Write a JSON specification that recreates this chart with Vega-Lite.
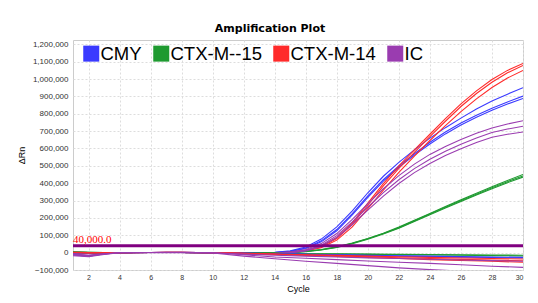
{
"$schema": "https://vega.github.io/schema/vega-lite/v6.json",
"width": 450, "height": 230,
"autosize": "none",
"padding": {"left": 73, "top": 40, "right": 15, "bottom": 33},
"background": "white",
"title": {"text": "Amplification Plot", "font": "DejaVu Sans", "fontSize": 11, "fontWeight": "bold", "color": "#000000", "anchor": "middle", "dx": -28, "offset": 6},
"datasets": {"curves": [
{"s":"CMY","w":"B1","c":1,"v":2000},{"s":"CMY","w":"B1","c":2,"v":0},{"s":"CMY","w":"B1","c":3,"v":-1000},{"s":"CMY","w":"B1","c":4,"v":0},{"s":"CMY","w":"B1","c":5,"v":1000},{"s":"CMY","w":"B1","c":6,"v":1000},{"s":"CMY","w":"B1","c":7,"v":2000},{"s":"CMY","w":"B1","c":8,"v":2000},{"s":"CMY","w":"B1","c":9,"v":1000},{"s":"CMY","w":"B1","c":10,"v":0},{"s":"CMY","w":"B1","c":11,"v":-1000},{"s":"CMY","w":"B1","c":12,"v":-2000},{"s":"CMY","w":"B1","c":13,"v":-1000},{"s":"CMY","w":"B1","c":14,"v":2000},{"s":"CMY","w":"B1","c":15,"v":10000},{"s":"CMY","w":"B1","c":16,"v":32000},{"s":"CMY","w":"B1","c":17,"v":78000},{"s":"CMY","w":"B1","c":18,"v":148000},{"s":"CMY","w":"B1","c":19,"v":240000},{"s":"CMY","w":"B1","c":20,"v":345000},{"s":"CMY","w":"B1","c":21,"v":440000},{"s":"CMY","w":"B1","c":22,"v":520000},{"s":"CMY","w":"B1","c":23,"v":592000},{"s":"CMY","w":"B1","c":24,"v":660000},{"s":"CMY","w":"B1","c":25,"v":720000},{"s":"CMY","w":"B1","c":26,"v":775000},{"s":"CMY","w":"B1","c":27,"v":828000},{"s":"CMY","w":"B1","c":28,"v":873000},{"s":"CMY","w":"B1","c":29,"v":913000},{"s":"CMY","w":"B1","c":30,"v":950000},
{"s":"CMY","w":"B2","c":1,"v":0},{"s":"CMY","w":"B2","c":2,"v":-2000},{"s":"CMY","w":"B2","c":3,"v":-1000},{"s":"CMY","w":"B2","c":4,"v":0},{"s":"CMY","w":"B2","c":5,"v":1000},{"s":"CMY","w":"B2","c":6,"v":1000},{"s":"CMY","w":"B2","c":7,"v":2000},{"s":"CMY","w":"B2","c":8,"v":2000},{"s":"CMY","w":"B2","c":9,"v":1000},{"s":"CMY","w":"B2","c":10,"v":0},{"s":"CMY","w":"B2","c":11,"v":-1000},{"s":"CMY","w":"B2","c":12,"v":-2000},{"s":"CMY","w":"B2","c":13,"v":-2000},{"s":"CMY","w":"B2","c":14,"v":1000},{"s":"CMY","w":"B2","c":15,"v":8000},{"s":"CMY","w":"B2","c":16,"v":27000},{"s":"CMY","w":"B2","c":17,"v":68000},{"s":"CMY","w":"B2","c":18,"v":133000},{"s":"CMY","w":"B2","c":19,"v":225000},{"s":"CMY","w":"B2","c":20,"v":327000},{"s":"CMY","w":"B2","c":21,"v":420000},{"s":"CMY","w":"B2","c":22,"v":500000},{"s":"CMY","w":"B2","c":23,"v":570000},{"s":"CMY","w":"B2","c":24,"v":636000},{"s":"CMY","w":"B2","c":25,"v":695000},{"s":"CMY","w":"B2","c":26,"v":747000},{"s":"CMY","w":"B2","c":27,"v":792000},{"s":"CMY","w":"B2","c":28,"v":832000},{"s":"CMY","w":"B2","c":29,"v":868000},{"s":"CMY","w":"B2","c":30,"v":902000},
{"s":"CMY","w":"B3","c":1,"v":-2000},{"s":"CMY","w":"B3","c":2,"v":-3000},{"s":"CMY","w":"B3","c":3,"v":-2000},{"s":"CMY","w":"B3","c":4,"v":0},{"s":"CMY","w":"B3","c":5,"v":1000},{"s":"CMY","w":"B3","c":6,"v":1000},{"s":"CMY","w":"B3","c":7,"v":1000},{"s":"CMY","w":"B3","c":8,"v":1000},{"s":"CMY","w":"B3","c":9,"v":1000},{"s":"CMY","w":"B3","c":10,"v":0},{"s":"CMY","w":"B3","c":11,"v":-1000},{"s":"CMY","w":"B3","c":12,"v":-3000},{"s":"CMY","w":"B3","c":13,"v":-3000},{"s":"CMY","w":"B3","c":14,"v":0},{"s":"CMY","w":"B3","c":15,"v":6000},{"s":"CMY","w":"B3","c":16,"v":24000},{"s":"CMY","w":"B3","c":17,"v":62000},{"s":"CMY","w":"B3","c":18,"v":126000},{"s":"CMY","w":"B3","c":19,"v":217000},{"s":"CMY","w":"B3","c":20,"v":318000},{"s":"CMY","w":"B3","c":21,"v":412000},{"s":"CMY","w":"B3","c":22,"v":492000},{"s":"CMY","w":"B3","c":23,"v":562000},{"s":"CMY","w":"B3","c":24,"v":626000},{"s":"CMY","w":"B3","c":25,"v":684000},{"s":"CMY","w":"B3","c":26,"v":735000},{"s":"CMY","w":"B3","c":27,"v":780000},{"s":"CMY","w":"B3","c":28,"v":820000},{"s":"CMY","w":"B3","c":29,"v":856000},{"s":"CMY","w":"B3","c":30,"v":888000},
{"s":"CTX-M-14","w":"R1","c":1,"v":3000},{"s":"CTX-M-14","w":"R1","c":2,"v":1000},{"s":"CTX-M-14","w":"R1","c":3,"v":0},{"s":"CTX-M-14","w":"R1","c":4,"v":0},{"s":"CTX-M-14","w":"R1","c":5,"v":1000},{"s":"CTX-M-14","w":"R1","c":6,"v":1000},{"s":"CTX-M-14","w":"R1","c":7,"v":2000},{"s":"CTX-M-14","w":"R1","c":8,"v":2000},{"s":"CTX-M-14","w":"R1","c":9,"v":1000},{"s":"CTX-M-14","w":"R1","c":10,"v":0},{"s":"CTX-M-14","w":"R1","c":11,"v":-2000},{"s":"CTX-M-14","w":"R1","c":12,"v":-4000},{"s":"CTX-M-14","w":"R1","c":13,"v":-4000},{"s":"CTX-M-14","w":"R1","c":14,"v":-2000},{"s":"CTX-M-14","w":"R1","c":15,"v":3000},{"s":"CTX-M-14","w":"R1","c":16,"v":14000},{"s":"CTX-M-14","w":"R1","c":17,"v":38000},{"s":"CTX-M-14","w":"R1","c":18,"v":88000},{"s":"CTX-M-14","w":"R1","c":19,"v":172000},{"s":"CTX-M-14","w":"R1","c":20,"v":285000},{"s":"CTX-M-14","w":"R1","c":21,"v":398000},{"s":"CTX-M-14","w":"R1","c":22,"v":500000},{"s":"CTX-M-14","w":"R1","c":23,"v":592000},{"s":"CTX-M-14","w":"R1","c":24,"v":682000},{"s":"CTX-M-14","w":"R1","c":25,"v":772000},{"s":"CTX-M-14","w":"R1","c":26,"v":857000},{"s":"CTX-M-14","w":"R1","c":27,"v":932000},{"s":"CTX-M-14","w":"R1","c":28,"v":997000},{"s":"CTX-M-14","w":"R1","c":29,"v":1050000},{"s":"CTX-M-14","w":"R1","c":30,"v":1090000},
{"s":"CTX-M-14","w":"R2","c":1,"v":2000},{"s":"CTX-M-14","w":"R2","c":2,"v":0},{"s":"CTX-M-14","w":"R2","c":3,"v":0},{"s":"CTX-M-14","w":"R2","c":4,"v":0},{"s":"CTX-M-14","w":"R2","c":5,"v":1000},{"s":"CTX-M-14","w":"R2","c":6,"v":1000},{"s":"CTX-M-14","w":"R2","c":7,"v":2000},{"s":"CTX-M-14","w":"R2","c":8,"v":2000},{"s":"CTX-M-14","w":"R2","c":9,"v":1000},{"s":"CTX-M-14","w":"R2","c":10,"v":0},{"s":"CTX-M-14","w":"R2","c":11,"v":-2000},{"s":"CTX-M-14","w":"R2","c":12,"v":-4000},{"s":"CTX-M-14","w":"R2","c":13,"v":-5000},{"s":"CTX-M-14","w":"R2","c":14,"v":-3000},{"s":"CTX-M-14","w":"R2","c":15,"v":2000},{"s":"CTX-M-14","w":"R2","c":16,"v":12000},{"s":"CTX-M-14","w":"R2","c":17,"v":34000},{"s":"CTX-M-14","w":"R2","c":18,"v":81000},{"s":"CTX-M-14","w":"R2","c":19,"v":163000},{"s":"CTX-M-14","w":"R2","c":20,"v":273000},{"s":"CTX-M-14","w":"R2","c":21,"v":385000},{"s":"CTX-M-14","w":"R2","c":22,"v":486000},{"s":"CTX-M-14","w":"R2","c":23,"v":578000},{"s":"CTX-M-14","w":"R2","c":24,"v":668000},{"s":"CTX-M-14","w":"R2","c":25,"v":757000},{"s":"CTX-M-14","w":"R2","c":26,"v":842000},{"s":"CTX-M-14","w":"R2","c":27,"v":917000},{"s":"CTX-M-14","w":"R2","c":28,"v":982000},{"s":"CTX-M-14","w":"R2","c":29,"v":1036000},{"s":"CTX-M-14","w":"R2","c":30,"v":1078000},
{"s":"CTX-M-14","w":"R3","c":1,"v":1000},{"s":"CTX-M-14","w":"R3","c":2,"v":-1000},{"s":"CTX-M-14","w":"R3","c":3,"v":-1000},{"s":"CTX-M-14","w":"R3","c":4,"v":0},{"s":"CTX-M-14","w":"R3","c":5,"v":1000},{"s":"CTX-M-14","w":"R3","c":6,"v":1000},{"s":"CTX-M-14","w":"R3","c":7,"v":1000},{"s":"CTX-M-14","w":"R3","c":8,"v":1000},{"s":"CTX-M-14","w":"R3","c":9,"v":1000},{"s":"CTX-M-14","w":"R3","c":10,"v":0},{"s":"CTX-M-14","w":"R3","c":11,"v":-2000},{"s":"CTX-M-14","w":"R3","c":12,"v":-5000},{"s":"CTX-M-14","w":"R3","c":13,"v":-6000},{"s":"CTX-M-14","w":"R3","c":14,"v":-4000},{"s":"CTX-M-14","w":"R3","c":15,"v":0},{"s":"CTX-M-14","w":"R3","c":16,"v":9000},{"s":"CTX-M-14","w":"R3","c":17,"v":29000},{"s":"CTX-M-14","w":"R3","c":18,"v":72000},{"s":"CTX-M-14","w":"R3","c":19,"v":148000},{"s":"CTX-M-14","w":"R3","c":20,"v":254000},{"s":"CTX-M-14","w":"R3","c":21,"v":360000},{"s":"CTX-M-14","w":"R3","c":22,"v":462000},{"s":"CTX-M-14","w":"R3","c":23,"v":556000},{"s":"CTX-M-14","w":"R3","c":24,"v":646000},{"s":"CTX-M-14","w":"R3","c":25,"v":732000},{"s":"CTX-M-14","w":"R3","c":26,"v":812000},{"s":"CTX-M-14","w":"R3","c":27,"v":886000},{"s":"CTX-M-14","w":"R3","c":28,"v":951000},{"s":"CTX-M-14","w":"R3","c":29,"v":1006000},{"s":"CTX-M-14","w":"R3","c":30,"v":1050000},
{"s":"CTX-M--15","w":"G1","c":1,"v":3000},{"s":"CTX-M--15","w":"G1","c":2,"v":2000},{"s":"CTX-M--15","w":"G1","c":3,"v":0},{"s":"CTX-M--15","w":"G1","c":4,"v":0},{"s":"CTX-M--15","w":"G1","c":5,"v":1000},{"s":"CTX-M--15","w":"G1","c":6,"v":1000},{"s":"CTX-M--15","w":"G1","c":7,"v":1000},{"s":"CTX-M--15","w":"G1","c":8,"v":1000},{"s":"CTX-M--15","w":"G1","c":9,"v":1000},{"s":"CTX-M--15","w":"G1","c":10,"v":0},{"s":"CTX-M--15","w":"G1","c":11,"v":-1000},{"s":"CTX-M--15","w":"G1","c":12,"v":-2000},{"s":"CTX-M--15","w":"G1","c":13,"v":-3000},{"s":"CTX-M--15","w":"G1","c":14,"v":-2000},{"s":"CTX-M--15","w":"G1","c":15,"v":2000},{"s":"CTX-M--15","w":"G1","c":16,"v":8000},{"s":"CTX-M--15","w":"G1","c":17,"v":18000},{"s":"CTX-M--15","w":"G1","c":18,"v":34000},{"s":"CTX-M--15","w":"G1","c":19,"v":56000},{"s":"CTX-M--15","w":"G1","c":20,"v":82000},{"s":"CTX-M--15","w":"G1","c":21,"v":112000},{"s":"CTX-M--15","w":"G1","c":22,"v":147000},{"s":"CTX-M--15","w":"G1","c":23,"v":186000},{"s":"CTX-M--15","w":"G1","c":24,"v":226000},{"s":"CTX-M--15","w":"G1","c":25,"v":266000},{"s":"CTX-M--15","w":"G1","c":26,"v":304000},{"s":"CTX-M--15","w":"G1","c":27,"v":342000},{"s":"CTX-M--15","w":"G1","c":28,"v":380000},{"s":"CTX-M--15","w":"G1","c":29,"v":416000},{"s":"CTX-M--15","w":"G1","c":30,"v":450000},
{"s":"CTX-M--15","w":"G2","c":1,"v":2000},{"s":"CTX-M--15","w":"G2","c":2,"v":1000},{"s":"CTX-M--15","w":"G2","c":3,"v":0},{"s":"CTX-M--15","w":"G2","c":4,"v":0},{"s":"CTX-M--15","w":"G2","c":5,"v":1000},{"s":"CTX-M--15","w":"G2","c":6,"v":1000},{"s":"CTX-M--15","w":"G2","c":7,"v":1000},{"s":"CTX-M--15","w":"G2","c":8,"v":1000},{"s":"CTX-M--15","w":"G2","c":9,"v":1000},{"s":"CTX-M--15","w":"G2","c":10,"v":0},{"s":"CTX-M--15","w":"G2","c":11,"v":-1000},{"s":"CTX-M--15","w":"G2","c":12,"v":-2000},{"s":"CTX-M--15","w":"G2","c":13,"v":-3000},{"s":"CTX-M--15","w":"G2","c":14,"v":-2000},{"s":"CTX-M--15","w":"G2","c":15,"v":1000},{"s":"CTX-M--15","w":"G2","c":16,"v":7000},{"s":"CTX-M--15","w":"G2","c":17,"v":17000},{"s":"CTX-M--15","w":"G2","c":18,"v":32000},{"s":"CTX-M--15","w":"G2","c":19,"v":54000},{"s":"CTX-M--15","w":"G2","c":20,"v":80000},{"s":"CTX-M--15","w":"G2","c":21,"v":110000},{"s":"CTX-M--15","w":"G2","c":22,"v":144000},{"s":"CTX-M--15","w":"G2","c":23,"v":183000},{"s":"CTX-M--15","w":"G2","c":24,"v":222000},{"s":"CTX-M--15","w":"G2","c":25,"v":261000},{"s":"CTX-M--15","w":"G2","c":26,"v":299000},{"s":"CTX-M--15","w":"G2","c":27,"v":337000},{"s":"CTX-M--15","w":"G2","c":28,"v":374000},{"s":"CTX-M--15","w":"G2","c":29,"v":409000},{"s":"CTX-M--15","w":"G2","c":30,"v":442000},
{"s":"CTX-M--15","w":"G3","c":1,"v":1000},{"s":"CTX-M--15","w":"G3","c":2,"v":0},{"s":"CTX-M--15","w":"G3","c":3,"v":-1000},{"s":"CTX-M--15","w":"G3","c":4,"v":0},{"s":"CTX-M--15","w":"G3","c":5,"v":1000},{"s":"CTX-M--15","w":"G3","c":6,"v":1000},{"s":"CTX-M--15","w":"G3","c":7,"v":1000},{"s":"CTX-M--15","w":"G3","c":8,"v":1000},{"s":"CTX-M--15","w":"G3","c":9,"v":0},{"s":"CTX-M--15","w":"G3","c":10,"v":0},{"s":"CTX-M--15","w":"G3","c":11,"v":-1000},{"s":"CTX-M--15","w":"G3","c":12,"v":-3000},{"s":"CTX-M--15","w":"G3","c":13,"v":-4000},{"s":"CTX-M--15","w":"G3","c":14,"v":-3000},{"s":"CTX-M--15","w":"G3","c":15,"v":0},{"s":"CTX-M--15","w":"G3","c":16,"v":5000},{"s":"CTX-M--15","w":"G3","c":17,"v":15000},{"s":"CTX-M--15","w":"G3","c":18,"v":30000},{"s":"CTX-M--15","w":"G3","c":19,"v":51000},{"s":"CTX-M--15","w":"G3","c":20,"v":77000},{"s":"CTX-M--15","w":"G3","c":21,"v":107000},{"s":"CTX-M--15","w":"G3","c":22,"v":141000},{"s":"CTX-M--15","w":"G3","c":23,"v":179000},{"s":"CTX-M--15","w":"G3","c":24,"v":218000},{"s":"CTX-M--15","w":"G3","c":25,"v":257000},{"s":"CTX-M--15","w":"G3","c":26,"v":295000},{"s":"CTX-M--15","w":"G3","c":27,"v":332000},{"s":"CTX-M--15","w":"G3","c":28,"v":368000},{"s":"CTX-M--15","w":"G3","c":29,"v":403000},{"s":"CTX-M--15","w":"G3","c":30,"v":435000},
{"s":"IC","w":"P1","c":1,"v":-8000},{"s":"IC","w":"P1","c":2,"v":-15000},{"s":"IC","w":"P1","c":3,"v":-6000},{"s":"IC","w":"P1","c":4,"v":0},{"s":"IC","w":"P1","c":5,"v":1000},{"s":"IC","w":"P1","c":6,"v":1000},{"s":"IC","w":"P1","c":7,"v":1000},{"s":"IC","w":"P1","c":8,"v":1000},{"s":"IC","w":"P1","c":9,"v":0},{"s":"IC","w":"P1","c":10,"v":-1000},{"s":"IC","w":"P1","c":11,"v":-3000},{"s":"IC","w":"P1","c":12,"v":-6000},{"s":"IC","w":"P1","c":13,"v":-7000},{"s":"IC","w":"P1","c":14,"v":-4000},{"s":"IC","w":"P1","c":15,"v":3000},{"s":"IC","w":"P1","c":16,"v":18000},{"s":"IC","w":"P1","c":17,"v":52000},{"s":"IC","w":"P1","c":18,"v":110000},{"s":"IC","w":"P1","c":19,"v":192000},{"s":"IC","w":"P1","c":20,"v":282000},{"s":"IC","w":"P1","c":21,"v":368000},{"s":"IC","w":"P1","c":22,"v":444000},{"s":"IC","w":"P1","c":23,"v":510000},{"s":"IC","w":"P1","c":24,"v":566000},{"s":"IC","w":"P1","c":25,"v":612000},{"s":"IC","w":"P1","c":26,"v":652000},{"s":"IC","w":"P1","c":27,"v":688000},{"s":"IC","w":"P1","c":28,"v":718000},{"s":"IC","w":"P1","c":29,"v":741000},{"s":"IC","w":"P1","c":30,"v":760000},
{"s":"IC","w":"P2","c":1,"v":-10000},{"s":"IC","w":"P2","c":2,"v":-18000},{"s":"IC","w":"P2","c":3,"v":-7000},{"s":"IC","w":"P2","c":4,"v":0},{"s":"IC","w":"P2","c":5,"v":1000},{"s":"IC","w":"P2","c":6,"v":1000},{"s":"IC","w":"P2","c":7,"v":1000},{"s":"IC","w":"P2","c":8,"v":1000},{"s":"IC","w":"P2","c":9,"v":0},{"s":"IC","w":"P2","c":10,"v":-1000},{"s":"IC","w":"P2","c":11,"v":-3000},{"s":"IC","w":"P2","c":12,"v":-7000},{"s":"IC","w":"P2","c":13,"v":-8000},{"s":"IC","w":"P2","c":14,"v":-6000},{"s":"IC","w":"P2","c":15,"v":0},{"s":"IC","w":"P2","c":16,"v":13000},{"s":"IC","w":"P2","c":17,"v":43000},{"s":"IC","w":"P2","c":18,"v":98000},{"s":"IC","w":"P2","c":19,"v":177000},{"s":"IC","w":"P2","c":20,"v":263000},{"s":"IC","w":"P2","c":21,"v":346000},{"s":"IC","w":"P2","c":22,"v":420000},{"s":"IC","w":"P2","c":23,"v":484000},{"s":"IC","w":"P2","c":24,"v":538000},{"s":"IC","w":"P2","c":25,"v":584000},{"s":"IC","w":"P2","c":26,"v":625000},{"s":"IC","w":"P2","c":27,"v":661000},{"s":"IC","w":"P2","c":28,"v":692000},{"s":"IC","w":"P2","c":29,"v":712000},{"s":"IC","w":"P2","c":30,"v":728000},
{"s":"IC","w":"P3","c":1,"v":-12000},{"s":"IC","w":"P3","c":2,"v":-20000},{"s":"IC","w":"P3","c":3,"v":-8000},{"s":"IC","w":"P3","c":4,"v":-1000},{"s":"IC","w":"P3","c":5,"v":0},{"s":"IC","w":"P3","c":6,"v":1000},{"s":"IC","w":"P3","c":7,"v":1000},{"s":"IC","w":"P3","c":8,"v":1000},{"s":"IC","w":"P3","c":9,"v":0},{"s":"IC","w":"P3","c":10,"v":-1000},{"s":"IC","w":"P3","c":11,"v":-4000},{"s":"IC","w":"P3","c":12,"v":-8000},{"s":"IC","w":"P3","c":13,"v":-10000},{"s":"IC","w":"P3","c":14,"v":-8000},{"s":"IC","w":"P3","c":15,"v":-2000},{"s":"IC","w":"P3","c":16,"v":9000},{"s":"IC","w":"P3","c":17,"v":36000},{"s":"IC","w":"P3","c":18,"v":87000},{"s":"IC","w":"P3","c":19,"v":162000},{"s":"IC","w":"P3","c":20,"v":245000},{"s":"IC","w":"P3","c":21,"v":326000},{"s":"IC","w":"P3","c":22,"v":398000},{"s":"IC","w":"P3","c":23,"v":461000},{"s":"IC","w":"P3","c":24,"v":514000},{"s":"IC","w":"P3","c":25,"v":559000},{"s":"IC","w":"P3","c":26,"v":599000},{"s":"IC","w":"P3","c":27,"v":634000},{"s":"IC","w":"P3","c":28,"v":665000},{"s":"IC","w":"P3","c":29,"v":682000},{"s":"IC","w":"P3","c":30,"v":695000},
{"s":"CTX-M--15","w":"GN1","c":1,"v":3000},{"s":"CTX-M--15","w":"GN1","c":2,"v":2000},{"s":"CTX-M--15","w":"GN1","c":3,"v":0},{"s":"CTX-M--15","w":"GN1","c":4,"v":0},{"s":"CTX-M--15","w":"GN1","c":6,"v":1000},{"s":"CTX-M--15","w":"GN1","c":8,"v":1000},{"s":"CTX-M--15","w":"GN1","c":10,"v":0},{"s":"CTX-M--15","w":"GN1","c":12,"v":-2000},{"s":"CTX-M--15","w":"GN1","c":14,"v":-4000},{"s":"CTX-M--15","w":"GN1","c":16,"v":-6000},{"s":"CTX-M--15","w":"GN1","c":18,"v":-7000},{"s":"CTX-M--15","w":"GN1","c":20,"v":-8000},{"s":"CTX-M--15","w":"GN1","c":22,"v":-10000},{"s":"CTX-M--15","w":"GN1","c":24,"v":-11000},{"s":"CTX-M--15","w":"GN1","c":26,"v":-12000},{"s":"CTX-M--15","w":"GN1","c":28,"v":-14000},{"s":"CTX-M--15","w":"GN1","c":30,"v":-15000},
{"s":"CTX-M--15","w":"GN2","c":1,"v":1000},{"s":"CTX-M--15","w":"GN2","c":2,"v":0},{"s":"CTX-M--15","w":"GN2","c":3,"v":-1000},{"s":"CTX-M--15","w":"GN2","c":4,"v":0},{"s":"CTX-M--15","w":"GN2","c":6,"v":1000},{"s":"CTX-M--15","w":"GN2","c":8,"v":1000},{"s":"CTX-M--15","w":"GN2","c":10,"v":0},{"s":"CTX-M--15","w":"GN2","c":12,"v":-3000},{"s":"CTX-M--15","w":"GN2","c":14,"v":-5000},{"s":"CTX-M--15","w":"GN2","c":16,"v":-7000},{"s":"CTX-M--15","w":"GN2","c":18,"v":-8000},{"s":"CTX-M--15","w":"GN2","c":20,"v":-10000},{"s":"CTX-M--15","w":"GN2","c":22,"v":-12000},{"s":"CTX-M--15","w":"GN2","c":24,"v":-13000},{"s":"CTX-M--15","w":"GN2","c":26,"v":-15000},{"s":"CTX-M--15","w":"GN2","c":28,"v":-17000},{"s":"CTX-M--15","w":"GN2","c":30,"v":-19000},
{"s":"CMY","w":"BN1","c":1,"v":0},{"s":"CMY","w":"BN1","c":2,"v":-1000},{"s":"CMY","w":"BN1","c":3,"v":-1000},{"s":"CMY","w":"BN1","c":4,"v":0},{"s":"CMY","w":"BN1","c":6,"v":1000},{"s":"CMY","w":"BN1","c":8,"v":1000},{"s":"CMY","w":"BN1","c":10,"v":0},{"s":"CMY","w":"BN1","c":12,"v":-3000},{"s":"CMY","w":"BN1","c":14,"v":-6000},{"s":"CMY","w":"BN1","c":16,"v":-9000},{"s":"CMY","w":"BN1","c":18,"v":-12000},{"s":"CMY","w":"BN1","c":20,"v":-15000},{"s":"CMY","w":"BN1","c":22,"v":-18000},{"s":"CMY","w":"BN1","c":24,"v":-20000},{"s":"CMY","w":"BN1","c":26,"v":-23000},{"s":"CMY","w":"BN1","c":28,"v":-25000},{"s":"CMY","w":"BN1","c":30,"v":-27000},
{"s":"CMY","w":"BN2","c":1,"v":-1000},{"s":"CMY","w":"BN2","c":2,"v":-2000},{"s":"CMY","w":"BN2","c":3,"v":-2000},{"s":"CMY","w":"BN2","c":4,"v":0},{"s":"CMY","w":"BN2","c":6,"v":1000},{"s":"CMY","w":"BN2","c":8,"v":1000},{"s":"CMY","w":"BN2","c":10,"v":0},{"s":"CMY","w":"BN2","c":12,"v":-3000},{"s":"CMY","w":"BN2","c":14,"v":-7000},{"s":"CMY","w":"BN2","c":16,"v":-10000},{"s":"CMY","w":"BN2","c":18,"v":-13000},{"s":"CMY","w":"BN2","c":20,"v":-17000},{"s":"CMY","w":"BN2","c":22,"v":-20000},{"s":"CMY","w":"BN2","c":24,"v":-23000},{"s":"CMY","w":"BN2","c":26,"v":-26000},{"s":"CMY","w":"BN2","c":28,"v":-28000},{"s":"CMY","w":"BN2","c":30,"v":-31000},
{"s":"CTX-M-14","w":"RN1","c":1,"v":2000},{"s":"CTX-M-14","w":"RN1","c":2,"v":0},{"s":"CTX-M-14","w":"RN1","c":3,"v":0},{"s":"CTX-M-14","w":"RN1","c":4,"v":0},{"s":"CTX-M-14","w":"RN1","c":6,"v":1000},{"s":"CTX-M-14","w":"RN1","c":8,"v":1000},{"s":"CTX-M-14","w":"RN1","c":10,"v":0},{"s":"CTX-M-14","w":"RN1","c":12,"v":-4000},{"s":"CTX-M-14","w":"RN1","c":14,"v":-8000},{"s":"CTX-M-14","w":"RN1","c":16,"v":-12000},{"s":"CTX-M-14","w":"RN1","c":18,"v":-16000},{"s":"CTX-M-14","w":"RN1","c":20,"v":-20000},{"s":"CTX-M-14","w":"RN1","c":22,"v":-24000},{"s":"CTX-M-14","w":"RN1","c":24,"v":-27000},{"s":"CTX-M-14","w":"RN1","c":26,"v":-31000},{"s":"CTX-M-14","w":"RN1","c":28,"v":-34000},{"s":"CTX-M-14","w":"RN1","c":30,"v":-37000},
{"s":"CTX-M-14","w":"RN2","c":1,"v":1000},{"s":"CTX-M-14","w":"RN2","c":2,"v":-1000},{"s":"CTX-M-14","w":"RN2","c":3,"v":-1000},{"s":"CTX-M-14","w":"RN2","c":4,"v":0},{"s":"CTX-M-14","w":"RN2","c":6,"v":1000},{"s":"CTX-M-14","w":"RN2","c":8,"v":1000},{"s":"CTX-M-14","w":"RN2","c":10,"v":0},{"s":"CTX-M-14","w":"RN2","c":12,"v":-4000},{"s":"CTX-M-14","w":"RN2","c":14,"v":-9000},{"s":"CTX-M-14","w":"RN2","c":16,"v":-14000},{"s":"CTX-M-14","w":"RN2","c":18,"v":-19000},{"s":"CTX-M-14","w":"RN2","c":20,"v":-24000},{"s":"CTX-M-14","w":"RN2","c":22,"v":-29000},{"s":"CTX-M-14","w":"RN2","c":24,"v":-34000},{"s":"CTX-M-14","w":"RN2","c":26,"v":-39000},{"s":"CTX-M-14","w":"RN2","c":28,"v":-43000},{"s":"CTX-M-14","w":"RN2","c":30,"v":-47000},
{"s":"CTX-M-14","w":"RN3","c":1,"v":0},{"s":"CTX-M-14","w":"RN3","c":2,"v":-2000},{"s":"CTX-M-14","w":"RN3","c":3,"v":-1000},{"s":"CTX-M-14","w":"RN3","c":4,"v":0},{"s":"CTX-M-14","w":"RN3","c":6,"v":1000},{"s":"CTX-M-14","w":"RN3","c":8,"v":1000},{"s":"CTX-M-14","w":"RN3","c":10,"v":0},{"s":"CTX-M-14","w":"RN3","c":12,"v":-5000},{"s":"CTX-M-14","w":"RN3","c":14,"v":-10000},{"s":"CTX-M-14","w":"RN3","c":16,"v":-16000},{"s":"CTX-M-14","w":"RN3","c":18,"v":-22000},{"s":"CTX-M-14","w":"RN3","c":20,"v":-28000},{"s":"CTX-M-14","w":"RN3","c":22,"v":-34000},{"s":"CTX-M-14","w":"RN3","c":24,"v":-40000},{"s":"CTX-M-14","w":"RN3","c":26,"v":-45000},{"s":"CTX-M-14","w":"RN3","c":28,"v":-50000},{"s":"CTX-M-14","w":"RN3","c":30,"v":-55000},
{"s":"IC","w":"PN1","c":1,"v":-10000},{"s":"IC","w":"PN1","c":2,"v":-16000},{"s":"IC","w":"PN1","c":3,"v":-6000},{"s":"IC","w":"PN1","c":4,"v":0},{"s":"IC","w":"PN1","c":6,"v":1000},{"s":"IC","w":"PN1","c":8,"v":1000},{"s":"IC","w":"PN1","c":10,"v":-1000},{"s":"IC","w":"PN1","c":12,"v":-8000},{"s":"IC","w":"PN1","c":14,"v":-15000},{"s":"IC","w":"PN1","c":16,"v":-20000},{"s":"IC","w":"PN1","c":18,"v":-25000},{"s":"IC","w":"PN1","c":20,"v":-30000},{"s":"IC","w":"PN1","c":22,"v":-34000},{"s":"IC","w":"PN1","c":24,"v":-38000},{"s":"IC","w":"PN1","c":26,"v":-42000},{"s":"IC","w":"PN1","c":28,"v":-46000},{"s":"IC","w":"PN1","c":30,"v":-50000},
{"s":"IC","w":"PN2","c":1,"v":-14000},{"s":"IC","w":"PN2","c":2,"v":-20000},{"s":"IC","w":"PN2","c":3,"v":-8000},{"s":"IC","w":"PN2","c":4,"v":-1000},{"s":"IC","w":"PN2","c":6,"v":1000},{"s":"IC","w":"PN2","c":8,"v":1000},{"s":"IC","w":"PN2","c":10,"v":-1000},{"s":"IC","w":"PN2","c":12,"v":-12000},{"s":"IC","w":"PN2","c":14,"v":-25000},{"s":"IC","w":"PN2","c":16,"v":-32000},{"s":"IC","w":"PN2","c":18,"v":-40000},{"s":"IC","w":"PN2","c":20,"v":-48000},{"s":"IC","w":"PN2","c":22,"v":-55000},{"s":"IC","w":"PN2","c":24,"v":-62000},{"s":"IC","w":"PN2","c":26,"v":-70000},{"s":"IC","w":"PN2","c":28,"v":-78000},{"s":"IC","w":"PN2","c":30,"v":-85000},
{"s":"IC","w":"PN3","c":1,"v":-18000},{"s":"IC","w":"PN3","c":2,"v":-24000},{"s":"IC","w":"PN3","c":3,"v":-10000},{"s":"IC","w":"PN3","c":4,"v":-1000},{"s":"IC","w":"PN3","c":6,"v":0},{"s":"IC","w":"PN3","c":8,"v":1000},{"s":"IC","w":"PN3","c":10,"v":-2000},{"s":"IC","w":"PN3","c":12,"v":-20000},{"s":"IC","w":"PN3","c":14,"v":-35000},{"s":"IC","w":"PN3","c":16,"v":-50000},{"s":"IC","w":"PN3","c":18,"v":-62000},{"s":"IC","w":"PN3","c":20,"v":-75000},{"s":"IC","w":"PN3","c":22,"v":-88000},{"s":"IC","w":"PN3","c":24,"v":-98000},{"s":"IC","w":"PN3","c":26,"v":-106000},{"s":"IC","w":"PN3","c":28,"v":-113000},{"s":"IC","w":"PN3","c":30,"v":-120000}
]},
"encoding": {
  "x": {"field": "c", "type": "quantitative", "scale": {"domain": [1, 30], "nice": false, "zero": false},
        "axis": {"values": [2,4,6,8,10,12,14,16,18,20,22,24,26,28,30], "labelOverlap": false, "title": "Cycle", "labelFont": "Liberation Sans", "labelFontSize": 7, "labelColor": "#333333", "labelPadding": 3, "titleFont": "Liberation Sans", "titleFontSize": 9, "titleFontWeight": "normal", "titleColor": "#000000", "titlePadding": 4}},
  "y": {"field": "v", "type": "quantitative", "scale": {"domain": [-100000, 1225000], "nice": false, "zero": false},
        "axis": {"values": [-100000,0,100000,200000,300000,400000,500000,600000,700000,800000,900000,1000000,1100000,1200000], "labelOverlap": false, "format": ",d", "title": "ΔRn", "labelFont": "Liberation Sans", "labelFontSize": 8, "labelColor": "#333333", "labelPadding": 5, "titleFont": "Liberation Sans", "titleFontSize": 9, "titleFontWeight": "normal", "titleColor": "#000000", "titlePadding": 6}}
},
"layer": [
{"data": {"name": "curves"},
 "mark": {"type": "line", "strokeWidth": 1.1, "clip": true},
 "encoding": {
  "color": {"field": "s", "type": "nominal", "scale": {"domain": ["CMY", "CTX-M--15", "CTX-M-14", "IC"], "range": ["#3a3aff", "#1e9a30", "#ff2a2a", "#9a3cb0"]},
    "legend": {"orient": "none", "legendX": 9, "legendY": 4, "direction": "horizontal", "columns": 4, "gridAlign": "each", "title": null, "symbolType": "square", "symbolSize": 16, "symbolStrokeWidth": 12, "labelFont": "Liberation Sans", "labelFontSize": 18.5, "labelColor": "#000000", "labelOffset": 0, "columnPadding": -7, "padding": 0, "labelLimit": 300}},
  "detail": {"field": "w"}
 }},
{"data": {"values": [{"c": 1, "v": 40000}, {"c": 30, "v": 40000}]},
 "mark": {"type": "line", "color": "#800080", "strokeWidth": 3}},
{"data": {"values": [{"c": 1, "v": 40000, "lab": "40,000.0"}]},
 "mark": {"type": "text", "align": "left", "baseline": "alphabetic", "dy": -3, "color": "#ff0000", "font": "Liberation Serif", "fontSize": 11},
 "encoding": {"text": {"field": "lab"}}}
],
"config": {
 "view": {"stroke": "#cccccc"},
 "axis": {"gridDash": [2, 2], "gridColor": "#dddddd", "domain": false, "ticks": false}
}
}
